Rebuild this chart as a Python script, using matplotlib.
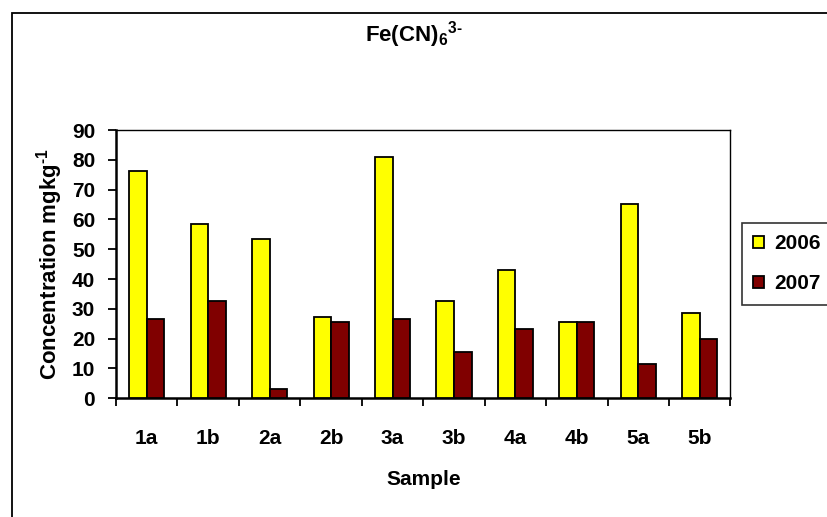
import matplotlib
matplotlib.use("Agg")
import matplotlib.pyplot as plt
import numpy as np
from matplotlib.patches import Rectangle

plt.rcParams['font.family'] = ['Liberation Sans', 'DejaVu Sans']
plt.rcParams['font.weight'] = 'bold'
plt.rcParams['mathtext.fontset'] = 'custom'
plt.rcParams['mathtext.rm'] = 'Liberation Sans:bold'
plt.rcParams['mathtext.bf'] = 'Liberation Sans:bold'
plt.rcParams['mathtext.it'] = 'Liberation Sans:bold'

samples = ['1a', '1b', '2a', '2b', '3a', '3b', '4a', '4b', '5a', '5b']
conc_2006 = [76.3, 58.6, 53.4, 27.3, 80.8, 32.6, 43.0, 25.5, 65.2, 28.7]
conc_2007 = [26.7, 32.6, 3.2, 25.5, 26.7, 15.6, 23.3, 25.5, 11.6, 20.0]
series_labels = ['2006', '2007']
y_ticks = [0, 10, 20, 30, 40, 50, 60, 70, 80, 90]

W, H = 827, 517
fig = plt.figure(figsize=(W / 100, H / 100), dpi=100)

# outer chart frame
fig.patches.append(Rectangle((12 / W, -0.1), 1.2, 1 - 13 / H + 0.1,
                             transform=fig.transFigure, fill=False,
                             edgecolor='black', linewidth=1.3, zorder=0))

ax = fig.add_axes([116 / W, 1 - 398.3 / H, (730.5 - 116) / W, (398.3 - 130) / H])

x = np.arange(len(samples))
bw = 0.286
ax.bar(x - bw / 2, conc_2006, bw, color='#FFFF00', edgecolor='black',
       linewidth=1.3, label=series_labels[0], zorder=3)
ax.bar(x + bw / 2, conc_2007, bw, color='#800000', edgecolor='black',
       linewidth=1.3, label=series_labels[1], zorder=3)

ax.set_xlim(-0.5, len(samples) - 0.5)
ax.set_ylim(0, 90)
ax.set_yticks(y_ticks)
ax.set_xticks(x)
ax.set_xticklabels(samples)
ax.set_xticks(np.arange(len(samples) + 1) - 0.5, minor=True)

ax.tick_params(axis='y', direction='out', length=6, width=1.3, pad=9,
               labelsize=15)
ax.tick_params(axis='x', which='major', length=0, pad=22, labelsize=15)
ax.tick_params(axis='x', which='minor', direction='out', length=6, width=1.3)

for s in ['left', 'bottom']:
    ax.spines[s].set_linewidth(1.8)
for s in ['top', 'right']:
    ax.spines[s].set_linewidth(1.0)

ax.set_xlabel('Sample', fontsize=15, fontweight='bold', labelpad=16)
ax.set_ylabel(r'Concentration mgkg$^{\text{-1}}$', fontsize=16,
              fontweight='bold', labelpad=5)

fig.text(0.5, 1 - 35 / H, r'Fe(CN)$_{6}{}^{\text{3-}}$', ha='center',
         va='center', fontsize=16, fontweight='bold')

leg = fig.legend(loc='upper left', bbox_to_anchor=(741.7 / W, 1 - 223 / H),
                 frameon=True, fancybox=False, edgecolor='black',
                 fontsize=15, handlelength=0.5, handleheight=0.5,
                 handletextpad=0.5, labelspacing=1.0, borderpad=0.55,
                 borderaxespad=0)
leg.get_frame().set_linewidth(1.2)

fig.savefig('out.png', dpi=100)
